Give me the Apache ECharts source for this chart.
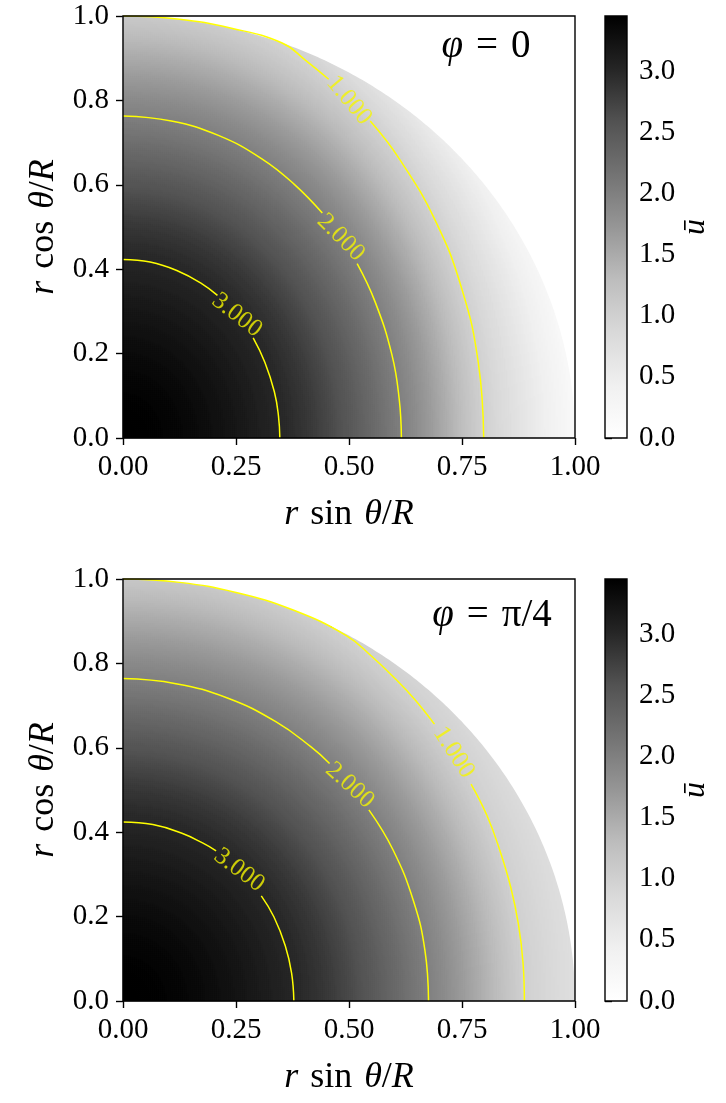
<!DOCTYPE html>
<html>
<head>
<meta charset="utf-8">
<script src="https://cdn.jsdelivr.net/npm/echarts@6/dist/echarts.min.js"></script>
<style>
  html, body { margin: 0; padding: 0; background: #fff; }
  #chart { width: 726px; height: 1103px; }
</style>
</head>
<body>
<div id="chart"></div>
<script>
// ---- values ----
const xTicks = [0, 0.25, 0.5, 0.75, 1.0];
const yTicks = [0, 0.2, 0.4, 0.6, 0.8, 1.0];
const cbTicks = [0, 0.5, 1.0, 1.5, 2.0, 2.5, 3.0];
const uMax = 3.45;

const levels = [3, 2, 1];
// semi-axes (along x, along y) of the 3 / 2 / 1 contours
const axesTop = [[0.347, 0.423], [0.616, 0.763], [0.798, 1.03]];
const axesBottom = [[0.378, 0.424], [0.676, 0.764], [0.888, 1.04]];
const centreTop = 3.45;
const centreBottom = 3.45;
// value on the rim against angle from the x axis (deg)
const rimAngles = [0, 15, 30, 45, 60, 70, 80, 90];
const rimTop = [0.18, 0.2, 0.3, 0.5, 0.8, 1.0, 1.0, 1.0];
const rimBottom = [0.75, 0.77, 0.82, 0.9, 0.99, 1.0, 1.0, 1.0];

// contour lines, split where the label sits
const c3Top = [
  [[0, 0.423], [0.060, 0.417], [0.119, 0.397], [0.174, 0.366], [0.209, 0.338]],
  [[0.288, 0.237], [0.314, 0.179], [0.335, 0.109], [0.344, 0.052], [0.347, 0]]
];
const c2Top = [
  [[0, 0.763], [0.107, 0.751], [0.211, 0.717], [0.308, 0.661], [0.379, 0.601], [0.441, 0.533]],
  [[0.518, 0.413], [0.558, 0.322], [0.595, 0.197], [0.611, 0.093], [0.616, 0]]
];
const c1Top = [
  [[0, 1.0], [0.12, 0.993], [0.24, 0.971], [0.352, 0.936], [0.404, 0.895], [0.455, 0.850]],
  [[0.547, 0.751], [0.611, 0.662], [0.691, 0.515], [0.750, 0.352], [0.786, 0.179], [0.798, 0]]
];
const c3Bottom = [
  [[0, 0.424], [0.066, 0.418], [0.129, 0.398], [0.177, 0.374], [0.206, 0.356]],
  [[0.306, 0.249], [0.334, 0.199], [0.359, 0.131], [0.373, 0.066], [0.378, 0]]
];
const c2Bottom = [
  [[0, 0.764], [0.117, 0.752], [0.231, 0.718], [0.338, 0.662], [0.416, 0.602], [0.457, 0.563]],
  [[0.544, 0.453], [0.597, 0.359], [0.643, 0.236], [0.668, 0.120], [0.676, 0]]
];
const c1Bottom = [
  [[0, 1.0], [0.125, 0.992], [0.25, 0.968], [0.375, 0.927], [0.494, 0.866], [0.55, 0.817], [0.60, 0.766], [0.645, 0.715], [0.689, 0.656]],
  [[0.770, 0.514], [0.805, 0.440], [0.834, 0.356], [0.858, 0.269], [0.875, 0.181], [0.885, 0.091], [0.888, 0]]
];

// contour label text, position and tilt
const labelText = ['3.000', '2.000', '1.000'];
const labelPosTop = [[0.252, 0.291], [0.482, 0.475], [0.50, 0.80]];
const labelPosBottom = [[0.257, 0.310], [0.502, 0.511], [0.732, 0.589]];
const labelTiltTop = [38, 45, 50];
const labelTiltBottom = [37, 42, 57];

const greys = ['#ffffff', '#f0f0f0', '#d9d9d9', '#bdbdbd', '#969696', '#737373', '#525252', '#252525', '#000000'];
const FONT = 'Liberation Serif';

// ---- build heatmap cells (2px cells on a 452 x 422 plot) ----
const NX = 226, NY = 211;
const catsX = [], catsY = [];
for (let i = 0; i < NX; i++) catsX.push(String(i));
for (let j = 0; j < NY; j++) catsY.push(String(j));

function rimAt(rim, deg) {
  for (let i = 0; i < rimAngles.length - 1; i++) {
    if (deg <= rimAngles[i + 1]) {
      const f = (deg - rimAngles[i]) / (rimAngles[i + 1] - rimAngles[i]);
      return rim[i] + f * (rim[i + 1] - rim[i]);
    }
  }
  return rim[rim.length - 1];
}

// monotone cubic through the contour knots
function profile(rs, us, r) {
  const n = rs.length;
  const d = [];
  for (let i = 0; i < n - 1; i++) d.push((us[i + 1] - us[i]) / (rs[i + 1] - rs[i]));
  const m = [0];
  for (let i = 1; i < n - 1; i++) m.push(d[i - 1] * d[i] > 0 ? 2 / (1 / d[i - 1] + 1 / d[i]) : 0);
  m.push(d[n - 2]);
  let i = 0;
  while (i < n - 2 && r > rs[i + 1]) i++;
  const h = rs[i + 1] - rs[i], s = (r - rs[i]) / h;
  const s2 = s * s, s3 = s2 * s;
  return (2 * s3 - 3 * s2 + 1) * us[i] + (s3 - 2 * s2 + s) * h * m[i] +
         (-2 * s3 + 3 * s2) * us[i + 1] + (s3 - s2) * h * m[i + 1];
}

function buildCells(axes, centre, rim) {
  const out = [];
  for (let i = 0; i < NX; i++) {
    for (let j = 0; j < NY; j++) {
      const x = (i + 0.5) / NX, y = (j + 0.5) / NY;
      const r = Math.hypot(x, y);
      if (r > 1.012) continue;   // the white rim mask trims the rest
      const t = Math.atan2(y, x);
      const c = Math.cos(t), s = Math.sin(t);
      const rs = [0], us = [centre];
      axes.forEach((ab, k) => {
        rs.push(1 / Math.sqrt(c * c / (ab[0] * ab[0]) + s * s / (ab[1] * ab[1])));
        us.push(levels[k]);
      });
      const rOut = rs[rs.length - 1];
      let v;
      if (r <= rOut) {
        v = profile(rs, us, r);
      } else {
        const rv = rimAt(rim, t * 180 / Math.PI);
        v = us[us.length - 1] + (rv - us[us.length - 1]) * (Math.min(r, 1) - rOut) / Math.max(1 - rOut, 1e-6);
      }
      out.push([i, j, v]);
    }
  }
  return out;
}

const cellsTop = buildCells(axesTop, centreTop, rimTop);
const cellsBottom = buildCells(axesBottom, centreBottom, rimBottom);

// ---- layout ----
const sp = '\u2004';
const panels = [
  { top: 16, cells: cellsTop, lines: [c3Top, c2Top, c1Top], lpos: labelPosTop, ltilt: labelTiltTop, tag: '{i|φ}' + sp + '=' + sp + '0', tagX: 486, tagY: 47 },
  { top: 579, cells: cellsBottom, lines: [c3Bottom, c2Bottom, c1Bottom], lpos: labelPosBottom, ltilt: labelTiltBottom, tag: '{i|φ}' + sp + '=' + sp + 'π/4', tagX: 492, tagY: 616 }
];
const plotW = 452, plotH = 422;

const grid = [], xAxis = [], yAxis = [], series = [], graphic = [];
const tickStyle = { show: true, length: 7, lineStyle: { color: '#000', width: 1.4 } };
const labelStyle = { color: '#000', fontFamily: FONT, fontSize: 29 };
const nameRich = {
  i: { fontStyle: 'italic', fontFamily: FONT, fontSize: 36, color: '#000' },
  n: { fontFamily: FONT, fontSize: 36, color: '#000' }
};
const xName = '{i|r}{n|' + sp + 'sin' + sp + '}{i|θ}{n|/}{i|R}';
const yName = '{i|r}{n|' + sp + 'cos' + sp + '}{i|θ}{n|/}{i|R}';

panels.forEach((p, k) => {
  // main plot grid and the colorbar grid
  grid.push({ left: 123, top: p.top, width: plotW, height: plotH, show: true, borderColor: '#000', borderWidth: 1.4, z: 10 });
  grid.push({ left: 605, top: p.top, width: 22, height: plotH, show: true, borderColor: '#000', borderWidth: 1.4, z: 10 });
  const g = k * 2, gc = k * 2 + 1;
  const xv = xAxis.length;
  xAxis.push({
    type: 'value', gridIndex: g, min: 0, max: 1,
    axisLine: { show: false }, splitLine: { show: false },
    axisTick: Object.assign({ customValues: xTicks }, tickStyle),
    axisLabel: Object.assign({ margin: 15, customValues: xTicks, formatter: v => v.toFixed(2) }, labelStyle),
    name: xName, nameLocation: 'middle', nameGap: 59,
    nameTextStyle: { rich: nameRich }
  });
  const xc = xAxis.length;
  xAxis.push({ type: 'category', gridIndex: g, data: catsX, show: false });
  const xcb = xAxis.length;
  xAxis.push({ type: 'value', gridIndex: gc, min: 0, max: 1, show: false });

  const yv = yAxis.length;
  yAxis.push({
    type: 'value', gridIndex: g, min: 0, max: 1,
    axisLine: { show: false }, splitLine: { show: false },
    axisTick: Object.assign({ customValues: yTicks }, tickStyle),
    axisLabel: Object.assign({ margin: 14, customValues: yTicks, formatter: v => v.toFixed(1) }, labelStyle),
    name: yName, nameLocation: 'middle', nameGap: 60, nameRotate: 90,
    nameTextStyle: { rich: nameRich }
  });
  const yc = yAxis.length;
  yAxis.push({ type: 'category', gridIndex: g, data: catsY, show: false });
  const ycb = yAxis.length;
  yAxis.push({
    type: 'value', gridIndex: gc, position: 'right', min: 0, max: uMax,
    axisLine: { show: false }, splitLine: { show: false },
    axisTick: Object.assign({ customValues: cbTicks }, tickStyle),
    axisLabel: Object.assign({ margin: 12, customValues: cbTicks, formatter: v => v.toFixed(1) }, labelStyle),
    name: '{i|ū}', nameLocation: 'middle', nameGap: 45, nameRotate: 90,
    nameTextStyle: { rich: { i: { fontStyle: 'italic', fontFamily: FONT, fontSize: 32, color: '#000' } } }
  });

  series.push({
    type: 'heatmap', xAxisIndex: xc, yAxisIndex: yc, data: p.cells,
    progressive: 0, emphasis: { disabled: true }, itemStyle: { borderWidth: 0 }
  });

  // white mask outside the unit quarter circle, for a clean rim
  series.push({
    type: 'custom', xAxisIndex: xv, yAxisIndex: yv, silent: true, z: 3, data: [[1]],
    renderItem: (params, api) => {
      const R = api.value(0);
      const pts = [];
      for (let a = 0; a <= 90; a += 0.5) {
        const t = a * Math.PI / 180;
        pts.push(api.coord([R * Math.cos(t), R * Math.sin(t)]));
      }
      pts.push(api.coord([1.01, 1.01]));
      pts.push(api.coord([1.01, 0]));
      return { type: 'polygon', shape: { points: pts }, style: { fill: '#fff' } };
    }
  });

  p.lines.forEach(pieces => {
    pieces.forEach(pts => {
      series.push({
        type: 'line', xAxisIndex: xv, yAxisIndex: yv, data: pts, smooth: 0.45,
        showSymbol: false, silent: true, z: 5,
        lineStyle: { color: '#ffff00', width: 1.5 }
      });
    });
  });

  series.push({
    type: 'scatter', xAxisIndex: xv, yAxisIndex: yv, symbolSize: 1, silent: true, z: 6,
    itemStyle: { color: 'rgba(0,0,0,0)' },
    data: p.lpos.map((pos, n) => ({
      value: pos, name: labelText[n],
      label: { rotate: -p.ltilt[n] }
    })),
    label: {
      show: true, position: 'inside', formatter: '{b}',
      color: '#f5f500', fontFamily: FONT, fontSize: 25
    }
  });

  // colorbar
  series.push({
    type: 'custom', xAxisIndex: xcb, yAxisIndex: ycb, silent: true, data: [[0, uMax]],
    renderItem: (params, api) => {
      const a = api.coord([0, 0]);
      const b = api.coord([1, api.value(1)]);
      return {
        type: 'rect',
        shape: { x: a[0], y: b[1], width: b[0] - a[0], height: a[1] - b[1] },
        style: {
          fill: new echarts.graphic.LinearGradient(0, 1, 0, 0,
            greys.map((c, n) => ({ offset: n / (greys.length - 1), color: c })))
        }
      };
    }
  });

  graphic.push({
    type: 'text', x: p.tagX, y: p.tagY, z: 20,
    style: {
      text: p.tag, fill: '#000', fontFamily: FONT, fontSize: 39,
      align: 'center', verticalAlign: 'middle',
      rich: { i: { fontStyle: 'italic', fontFamily: FONT, fontSize: 39, fill: '#000' } }
    }
  });
});

const chart = echarts.init(document.getElementById('chart'));
chart.setOption({
  backgroundColor: '#fff',
  animation: false,
  grid, xAxis, yAxis, series, graphic,
  visualMap: {
    type: 'continuous', show: false, min: 0, max: uMax, dimension: 2,
    seriesIndex: series.map((s, n) => s.type === 'heatmap' ? n : -1).filter(n => n >= 0),
    inRange: { color: greys }
  }
});
</script>
</body>
</html>
